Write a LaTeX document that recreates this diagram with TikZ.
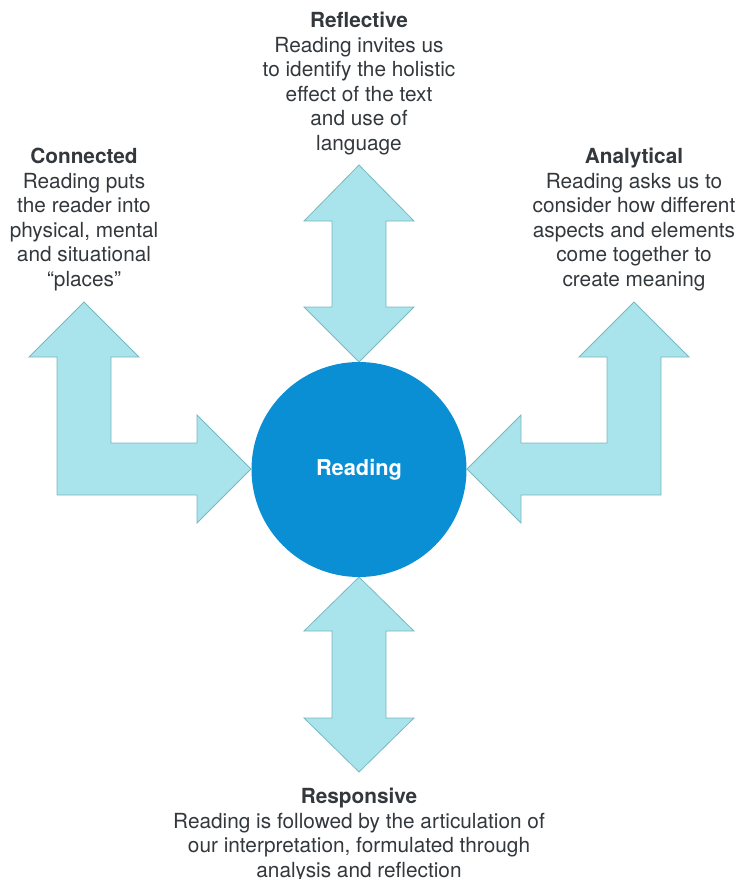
\documentclass[tikz,border=0pt]{standalone}
\usepackage{fontspec}
\setmainfont{TeX Gyre Heros}
\usetikzlibrary{positioning}
\definecolor{readingblue}{HTML}{0A8FD5}
\definecolor{arrowfill}{HTML}{A9E3EC}
\definecolor{arrowline}{HTML}{7BB8C0}
\definecolor{textgrey}{HTML}{33383D}
\newcommand{\heading}[1]{\textbf{#1}}
\begin{document}
\begin{tikzpicture}[
        x=1pt, y=-1pt,
        blockarrow/.style={fill=arrowfill, draw=arrowline, line width=0.8pt, line join=miter},
        hub/.style={circle, fill=readingblue, minimum size=215pt, inner sep=0pt, text=white, font=\fontsize{21.8}{25}\selectfont\bfseries},
        caption/.style={align=center, anchor=base, inner sep=0pt, text=textgrey, font=\fontsize{20.8}{24.5}\selectfont}]
        \useasboundingbox (0,0) rectangle (737,879);
        % Arrows
        \draw[blockarrow] (359,165) -- (414,221) -- (386,221) -- (386,307) -- (414,307) -- (359,362)
            -- (304,307) -- (332,307) -- (332,221) -- (304,221) -- cycle;
        \draw[blockarrow] (359,577) -- (414,631) -- (386,631) -- (386,718) -- (414,718) -- (359,772)
            -- (304,718) -- (332,718) -- (332,631) -- (304,631) -- cycle;
        \draw[blockarrow] (84,302) -- (139,357) -- (111,357) -- (111,443) -- (197,443) -- (197,415)
            -- (251,469) -- (197,523) -- (197,495) -- (57,495) -- (57,357) -- (29,357) -- cycle;
        \draw[blockarrow] (634,302) -- (689,357) -- (661,357) -- (661,495) -- (521,495) -- (521,523)
            -- (467,469) -- (521,415) -- (521,443) -- (607,443) -- (607,357) -- (579,357) -- cycle;
        % Centre
        \node[hub] (reading) at (359,469.5) {Reading};
        % Texts (anchored on the baseline of their last line)
        \node[caption] (reflective) at (359,150) {\heading{Reflective}\\Reading invites us\\to identify the holistic\\effect of the text\\and use of\\language};
        \node[caption] (connected) at (84,286) {\heading{Connected}\\Reading puts\\the reader into\\physical, mental\\and situational\\“places”};
        \node[caption] (analytical) at (634,286) {\heading{Analytical}\\Reading asks us to\\consider how different\\aspects and elements\\come together to\\create meaning};
        \node[caption] (responsive) at (359,877) {\heading{Responsive}\\Reading is followed by the articulation of\\our interpretation, formulated through\\analysis and reflection};
      \end{tikzpicture}
\end{document}
